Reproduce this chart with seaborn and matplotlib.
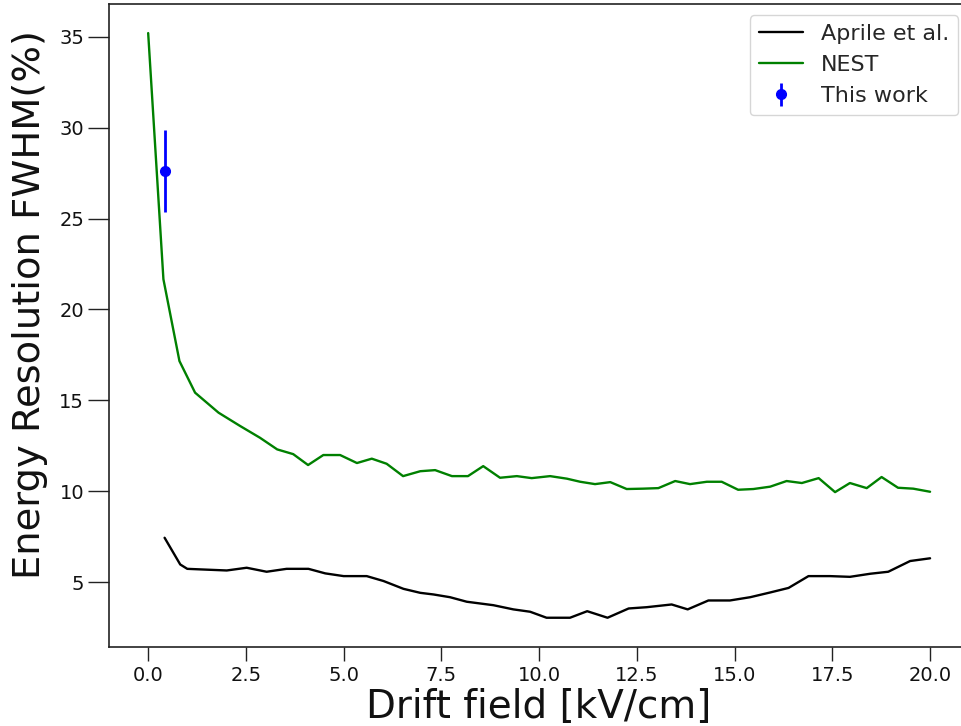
import matplotlib
matplotlib.use("Agg")
import matplotlib.pyplot as plt
import seaborn as sns
import pandas as pd

# NEST curve
nest_x = [0, 0.39, 0.80, 1.2, 1.8, 2.35, 2.86, 3.3, 3.71, 4.09, 4.48, 4.91, 5.34, 5.72, 6.10,
          6.52, 6.96, 7.34, 7.77, 8.18, 8.57, 9.0, 9.43, 9.81, 10.28, 10.71, 11.05, 11.43, 11.82,
          12.24, 12.66, 13.05, 13.48, 13.86, 14.29, 14.67, 15.09, 15.48, 15.91, 16.33, 16.72,
          17.15, 17.57, 17.95, 18.38, 18.76, 19.18, 19.57, 20.0]
nest_y = [35.2, 21.66, 17.16, 15.42, 14.32, 13.59, 12.94, 12.3, 12.04, 11.44, 11.99, 11.99, 11.55,
          11.79, 11.51, 10.83, 11.1, 11.16, 10.83, 10.83, 11.38, 10.74, 10.83, 10.72, 10.83, 10.69,
          10.52, 10.39, 10.5, 10.12, 10.14, 10.17, 10.56, 10.39, 10.52, 10.52, 10.08, 10.12, 10.25,
          10.56, 10.45, 10.72, 9.95, 10.45, 10.17, 10.78, 10.19, 10.14, 9.97]

# Aprile et al. curve
aprile_x = [0.42, 0.82, 1.0, 1.33, 2.01, 2.52, 3.03, 3.54, 4.1, 4.53, 5.0, 5.59, 6.02, 6.53, 6.96,
            7.3, 7.72, 8.15, 8.83, 9.34, 9.77, 10.19, 10.79, 11.23, 11.75, 12.29, 12.75, 13.39,
            13.8, 14.33, 14.88, 15.4, 15.91, 16.38, 16.89, 17.44, 17.95, 18.47, 18.93, 19.49, 20.0]
aprile_y = [7.44, 5.97, 5.73, 5.70, 5.64, 5.79, 5.57, 5.73, 5.73, 5.48, 5.33, 5.33, 5.06, 4.63, 4.41,
            4.32, 4.17, 3.92, 3.73, 3.5, 3.37, 3.04, 3.04, 3.4, 3.04, 3.55, 3.62, 3.77, 3.5, 3.99,
            3.99, 4.17, 4.43, 4.68, 5.33, 5.33, 5.29, 5.46, 5.57, 6.16, 6.31]

# This work
work_x = [0.42]
work_y = [27.6]
work_err = [2.25]

x_ticks = [0.0, 2.5, 5.0, 7.5, 10.0, 12.5, 15.0, 17.5, 20.0]
y_ticks = [5, 10, 15, 20, 25, 30, 35]

sns.set_style("ticks")
plt.rcParams['font.family'] = ['DejaVu Sans']

fig = plt.figure(figsize=(9.61, 7.26), dpi=100)
ax = fig.add_axes([0.1135, 0.1088, 0.895, 0.8857])

df_a = pd.DataFrame({"x": aprile_x, "y": aprile_y})
df_n = pd.DataFrame({"x": nest_x, "y": nest_y})
sns.lineplot(data=df_a, x="x", y="y", ax=ax, color="black", lw=1.7, sort=False,
             estimator=None, label="Aprile et al.")
sns.lineplot(data=df_n, x="x", y="y", ax=ax, color="green", lw=1.7, sort=False,
             estimator=None, label="NEST")
ax.errorbar(work_x, work_y, yerr=work_err, fmt="o", color="blue", ms=7, elinewidth=2,
            capsize=0, label="This work")

ax.set_xlim(-1, 21)
ax.set_ylim(1.43, 36.8)
ax.set_xticks(x_ticks)
ax.set_xticklabels([f"{v:.1f}" for v in x_ticks])
ax.set_yticks(y_ticks)
ax.tick_params(axis="x", labelsize=14, length=10, width=1, pad=4, color="#222222",
               labelcolor="#111111")
ax.tick_params(axis="y", labelsize=14, length=15, width=1, pad=3, color="#222222",
               labelcolor="#111111")
for s in ax.spines.values():
    s.set_color("#222222")
    s.set_linewidth(1.2)
ax.spines["right"].set_visible(False)

ax.set_xlabel("Drift field [kV/cm]", fontsize=28, labelpad=2, color="#111111")
ax.set_ylabel("Energy Resolution FWHM(%)", fontsize=27.7, color="#111111")
ax.yaxis.set_label_coords(-0.071, 0.532)

ax.legend(loc="upper right", fontsize=16, frameon=True)

fig.savefig("out.png", dpi=100)
